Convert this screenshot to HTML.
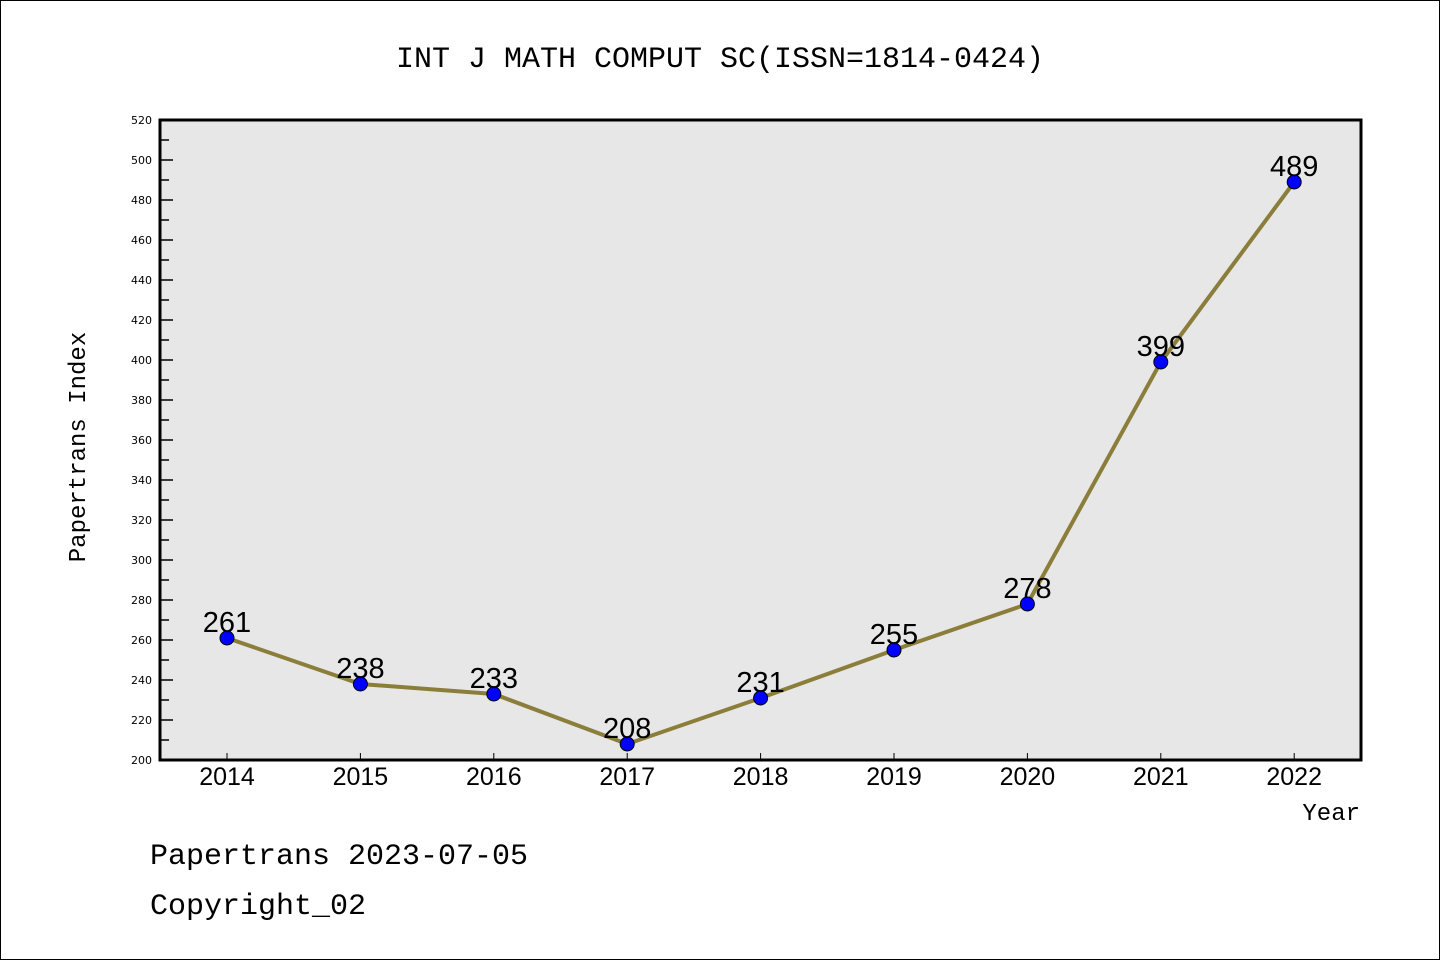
<!DOCTYPE html>
<html><head><meta charset="utf-8"><style>
body{margin:0;background:#fff}
svg{display:block;font-family:"Liberation Mono","DejaVu Sans Mono",monospace}
</style></head><body>
<svg width="1440" height="960">
<rect x="0.5" y="0.5" width="1439" height="959" fill="#fff" stroke="#000"/>
<text x="720" y="67" text-anchor="middle" font-size="30">INT J MATH COMPUT SC(ISSN=1814-0424)</text>
<rect x="160" y="120" width="1201" height="640" fill="#e7e7e7"/>
<g id="yaxis"></g>
<g id="xaxis"></g>
<g id="series"></g>
<rect x="160" y="120" width="1201" height="640" fill="none" stroke="#000" stroke-width="3"/>
<text x="85" y="447" text-anchor="middle" font-size="24" transform="rotate(-90 85 447)">Papertrans Index</text>
<text x="1360" y="820" text-anchor="end" font-size="24">Year</text>
<text x="150" y="864" font-size="30">Papertrans 2023-07-05</text>
<text x="150" y="914" font-size="30">Copyright_02</text>
</svg>
<script>
const years=["2014","2015","2016","2017","2018","2019","2020","2021","2022"];
const values=[261,238,233,208,231,255,278,399,489];
const yTicks=[200,220,240,260,280,300,320,340,360,380,400,420,440,460,480,500,520];
const NS="http://www.w3.org/2000/svg";
const xs=i=>227+i*133.4;
const ys=v=>760-(v-200)*2;
function mk(t,a,p){const e=document.createElementNS(NS,t);for(const k in a)e.setAttribute(k,a[k]);p.appendChild(e);return e;}
const ya=document.getElementById('yaxis');
yTicks.forEach(v=>{
 const t=mk('line',{x1:160,x2:173,y1:ys(v),y2:ys(v),stroke:'#000','stroke-width':1.5},ya);
 
 
 const l=mk('text',{x:152,y:ys(v)+4,'text-anchor':'end','font-size':11,'font-family':'DejaVu Sans,sans-serif'},ya);
 l.textContent=v;
 
 
 if(v<520){const m=mk('line',{x1:160,x2:169,y1:ys(v+10),y2:ys(v+10),stroke:'#000','stroke-width':1.5},ya);
 
 }
});
const xa=document.getElementById('xaxis');
years.forEach((y,i)=>{
 const t=mk('line',{x1:xs(i),x2:xs(i),y1:760,y2:753,stroke:'#000','stroke-width':1},xa);
 
 
 const l=mk('text',{x:xs(i),y:785,'text-anchor':'middle','font-size':25,'font-family':'Liberation Sans,sans-serif'},xa);
 l.textContent=y;
 
 
});
const s=document.getElementById('series');
const ln=mk('polyline',{points:values.map((v,i)=>xs(i)+','+ys(v)).join(' '),fill:'none',stroke:'#8b7d3a','stroke-width':4},s);


values.forEach((v,i)=>{
 const c=mk('circle',{cx:xs(i),cy:ys(v),r:7,fill:'#0000ff',stroke:'#000','stroke-width':1},s);
 
 
 const l=mk('text',{x:xs(i),y:ys(v)-6,'text-anchor':'middle','font-size':29,'font-family':'Liberation Sans,sans-serif'},s);
 l.textContent=v;
 
 
});
</script>
</body></html>
